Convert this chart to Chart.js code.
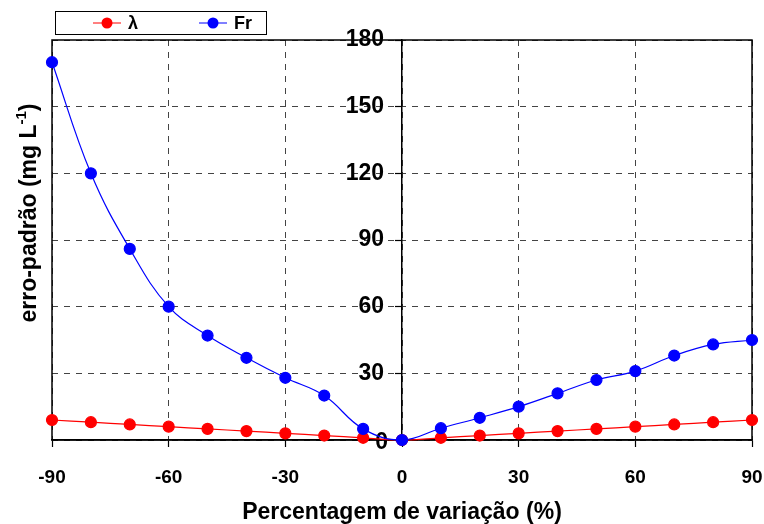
<!DOCTYPE html>
<html>
<head>
<meta charset="utf-8">
<script src="https://cdn.jsdelivr.net/npm/chart.js@4/dist/chart.umd.min.js"></script>
<style>
  html, body { margin: 0; padding: 0; background: #fff; }
  #wrap { width: 764px; height: 524px; }
</style>
</head>
<body>
<div id="wrap"><canvas id="myChart"></canvas></div>
<script>
const variation = [-90, -80, -70, -60, -50, -40, -30, -20, -10, 0, 10, 20, 30, 40, 50, 60, 70, 80, 90];
const lambdaErr = [9, 8, 7, 6, 5, 4, 3, 2, 1, 0, 1, 2, 3, 4, 5, 6, 7, 8, 9];
const frErr = [170, 120, 86, 60, 47, 37, 28, 20, 5, 0, 5.3, 10, 15, 21, 27, 31, 38, 43, 45];
const xTicks = [-90, -60, -30, 0, 30, 60, 90];
const yTicks = [0, 30, 60, 90, 120, 150, 180];

const FONT = '"Liberation Sans", Arial, sans-serif';

function toPoints(xs, ys) {
    return xs.map((x, i) => ({ x: x, y: ys[i] }));
}

// solid frame round the plot area
const framePlugin = {
    id: 'frame',
    beforeDatasetsDraw(chart) {
        const a = chart.chartArea;
        const ctx = chart.ctx;
        ctx.save();
        ctx.strokeStyle = '#000';
        ctx.lineWidth = 1.5;
        ctx.strokeRect(a.left, a.top, a.right - a.left, a.bottom - a.top);
        ctx.restore();
    }
};

// the centred y axis puts its labels right on the line, move them left a bit
const yLabelShift = {
    id: 'yLabelShift',
    beforeDraw(chart) {
        const scale = chart.scales.y;
        const items = scale.getLabelItems();
        if (items._shifted) return;
        items.forEach(it => {
            if (it.label === '0') {
                it.options.translation[0] -= 14;
                it.options.translation[1] += 3;
            } else {
                it.options.translation[0] -= 18;
            }
        });
        items._shifted = true;
    }
};

// y title on the left edge, with a superscript
const yTitlePlugin = {
    id: 'yTitle',
    afterDraw(chart) {
        const ctx = chart.ctx;
        const main = 'erro-padrão (mg L';
        const sup = '-1';
        const tail = ')';
        ctx.save();
        ctx.fillStyle = '#000';
        ctx.textBaseline = 'alphabetic';
        ctx.textAlign = 'left';
        ctx.font = 'bold 23px ' + FONT;
        const w1 = ctx.measureText(main).width;
        const w3 = ctx.measureText(tail).width;
        ctx.font = 'bold 15px ' + FONT;
        const w2 = ctx.measureText(sup).width;
        const total = w1 + w2 + w3;
        ctx.translate(36, 213);
        ctx.rotate(-Math.PI / 2);
        let x = -total / 2;
        ctx.font = 'bold 23px ' + FONT;
        ctx.fillText(main, x, 0);
        x += w1;
        ctx.font = 'bold 15px ' + FONT;
        ctx.fillText(sup, x, -10);
        x += w2;
        ctx.font = 'bold 23px ' + FONT;
        ctx.fillText(tail, x, 0);
        ctx.restore();
    }
};

// boxed legend in the top-left corner
const legendPlugin = {
    id: 'boxLegend',
    afterDraw(chart) {
        const ctx = chart.ctx;
        ctx.save();
        ctx.strokeStyle = '#000';
        ctx.lineWidth = 1;
        ctx.strokeRect(55.5, 11.5, 211, 23);
        const items = [
            { x: 93, label: 'λ', ds: chart.data.datasets[1] },
            { x: 199, label: 'Fr', ds: chart.data.datasets[0] }
        ];
        items.forEach(it => {
            const cy = 23;
            ctx.strokeStyle = it.ds.borderColor;
            ctx.lineWidth = 1;
            ctx.beginPath();
            ctx.moveTo(it.x, cy);
            ctx.lineTo(it.x + 28, cy);
            ctx.stroke();
            ctx.fillStyle = it.ds.pointBackgroundColor;
            ctx.beginPath();
            ctx.arc(it.x + 14, cy, 5.5, 0, Math.PI * 2);
            ctx.fill();
            ctx.fillStyle = '#000';
            ctx.font = 'bold 18px ' + FONT;
            ctx.textBaseline = 'middle';
            ctx.fillText(it.label, it.x + 35, cy + 1);
        });
        ctx.restore();
    }
};

const ctx = document.getElementById('myChart').getContext('2d');
new Chart(ctx, {
    type: 'line',
    data: {
        datasets: [
            {
                label: 'Fr',
                data: toPoints(variation, frErr),
                borderColor: '#0000ff',
                backgroundColor: '#0000ff',
                pointBackgroundColor: '#0000ff',
                pointBorderColor: '#0000ff',
                pointRadius: 5.5,
                borderWidth: 1.2,
                tension: 0.4,
                clip: false,
                order: 0
            },
            {
                label: 'λ',
                data: toPoints(variation, lambdaErr),
                borderColor: '#ff0000',
                backgroundColor: '#ff0000',
                pointBackgroundColor: '#ff0000',
                pointBorderColor: '#ff0000',
                pointRadius: 5.5,
                borderWidth: 1.2,
                tension: 0.4,
                clip: false,
                order: 1
            }
        ]
    },
    options: {
        responsive: true,
        maintainAspectRatio: false,
        animation: false,
        layout: { padding: { left: 52, top: 40, right: 12, bottom: 0 } },
        plugins: {
            legend: { display: false },
            tooltip: { enabled: false }
        },
        scales: {
            x: {
                type: 'linear',
                position: 'bottom',
                min: -90,
                max: 90,
                afterBuildTicks: axis => { axis.ticks = xTicks.map(v => ({ value: v })); },
                afterFit: axis => {
                    axis.paddingRight = 0;
                    axis.paddingLeft = 0;
                    axis.height = 84;
                },
                ticks: {
                    color: '#000',
                    padding: 19,
                    font: { family: FONT, size: 19, weight: 'bold' },
                    maxRotation: 0
                },
                grid: {
                    color: '#444',
                    lineWidth: 1,
                    tickLength: 7,
                    tickColor: '#000',
                    tickWidth: 1.2
                },
                border: { display: true, color: '#000', width: 1.5, dash: [6, 6] },
                title: {
                    display: true,
                    text: 'Percentagem de variação (%)',
                    color: '#000',
                    font: { family: FONT, size: 23, weight: 'bold' },
                    padding: { top: 11, bottom: -2 }
                }
            },
            y: {
                type: 'linear',
                position: { x: 0 },
                min: 0,
                max: 180,
                afterBuildTicks: axis => { axis.ticks = yTicks.map(v => ({ value: v })); },
                afterFit: axis => {
                    axis.paddingTop = 0;
                    axis.paddingBottom = 0;
                },
                ticks: {
                    color: '#000',
                    padding: 14,
                    font: { family: FONT, size: 23, weight: 'bold' }
                },
                grid: {
                    color: '#444',
                    lineWidth: 1,
                    tickLength: 6,
                    tickColor: '#000',
                    tickWidth: 1.2
                },
                border: { display: true, color: '#000', width: 1.5, dash: [6, 6] }
            }
        }
    },
    plugins: [framePlugin, yLabelShift, yTitlePlugin, legendPlugin]
});
</script>
</body>
</html>
